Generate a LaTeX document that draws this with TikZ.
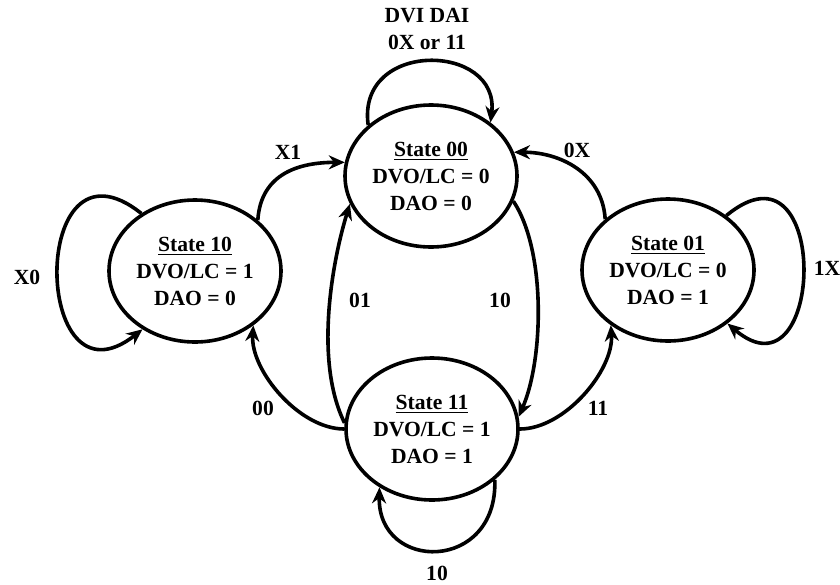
\documentclass[tikz,border=0pt]{standalone}
\usepackage{fontspec}
\setmainfont{Liberation Serif}
\usetikzlibrary{arrows.meta,shapes.geometric}

\tikzset{
  st/.style={draw, ellipse, line width=1.8pt, minimum width=86pt, minimum height=71pt,
    inner sep=0pt, align=center, font=\fontsize{10.8}{13.5}\selectfont\bfseries},
  tr/.style={line width=1.8pt, -{Stealth[length=8pt,width=7pt]}},
  lbl/.style={inner sep=0.75pt, align=center, font=\fontsize{10.8}{13.5}\selectfont\bfseries}
}

\begin{document}
\begin{tikzpicture}[x=0.5pt,y=0.5pt,yscale=-1,xscale=1]
\useasboundingbox (0,0) rectangle (840,584);

% States
\node[st] (s00) at (431,176) {\underline{State 00}\\DVO/LC = 0\\DAO = 0};
\node[st] (s10) at (195,271) {\underline{State 10}\\DVO/LC = 1\\DAO = 0};
\node[st] (s01) at (668,270) {\underline{State 01}\\DVO/LC = 0\\DAO = 1};
\node[st] (s11) at (432,429) {\underline{State 11}\\DVO/LC = 1\\DAO = 1};

%Curve Lines
\draw[tr] (s00.141) .. controls +(-12,-86) and +(10,-80) .. (s00.42);
\draw[tr] (s10.39) .. controls +(3,-47) and +(-45,0) .. (s00.171);
\draw[tr] (s01.141) .. controls +(-3,-47) and +(45,0) .. (s00.16);
\draw[tr] (s11.176) .. controls +(-31,-63) and +(-17,55) .. (s00.199);
\draw[tr] (s00.-17) .. controls +(33,50) and +(25,-57) .. (s11.8);
\draw[tr] (s11.180) .. controls +(-45,0) and +(-3,45) .. (s10.-43);
\draw[tr] (s11.0) .. controls +(45,0) and +(3,45) .. (s01.224);
% self loops
\draw[tr] (s10.133) .. controls +(-113,-90) and +(-111,87) .. (s10.228);
\draw[tr] (s01.43) .. controls +(105,-87) and +(98,83) .. (s01.318);
\draw[tr] (s11.-39) .. controls +(3,93) and +(-2,85) .. (s11.228);

% Text Node
\node[lbl] (t00) at (427,29) {DVI DAI\\0X or 11};
\node[lbl] (tx1) at (288,152) {X1};
\node[lbl] (t0x) at (577,150) {0X};
\node[lbl] (t01) at (360,300) {01};
\node[lbl] (t10) at (500,300) {10};
\node[lbl] (t00b) at (263,408) {00};
\node[lbl] (t11) at (598,408) {11};
\node[lbl] (tx0) at (27,277) {X0};
\node[lbl] (t1x) at (827,268) {1X};
\node[lbl] (t10b) at (437,573) {10};

\end{tikzpicture}
\end{document}
